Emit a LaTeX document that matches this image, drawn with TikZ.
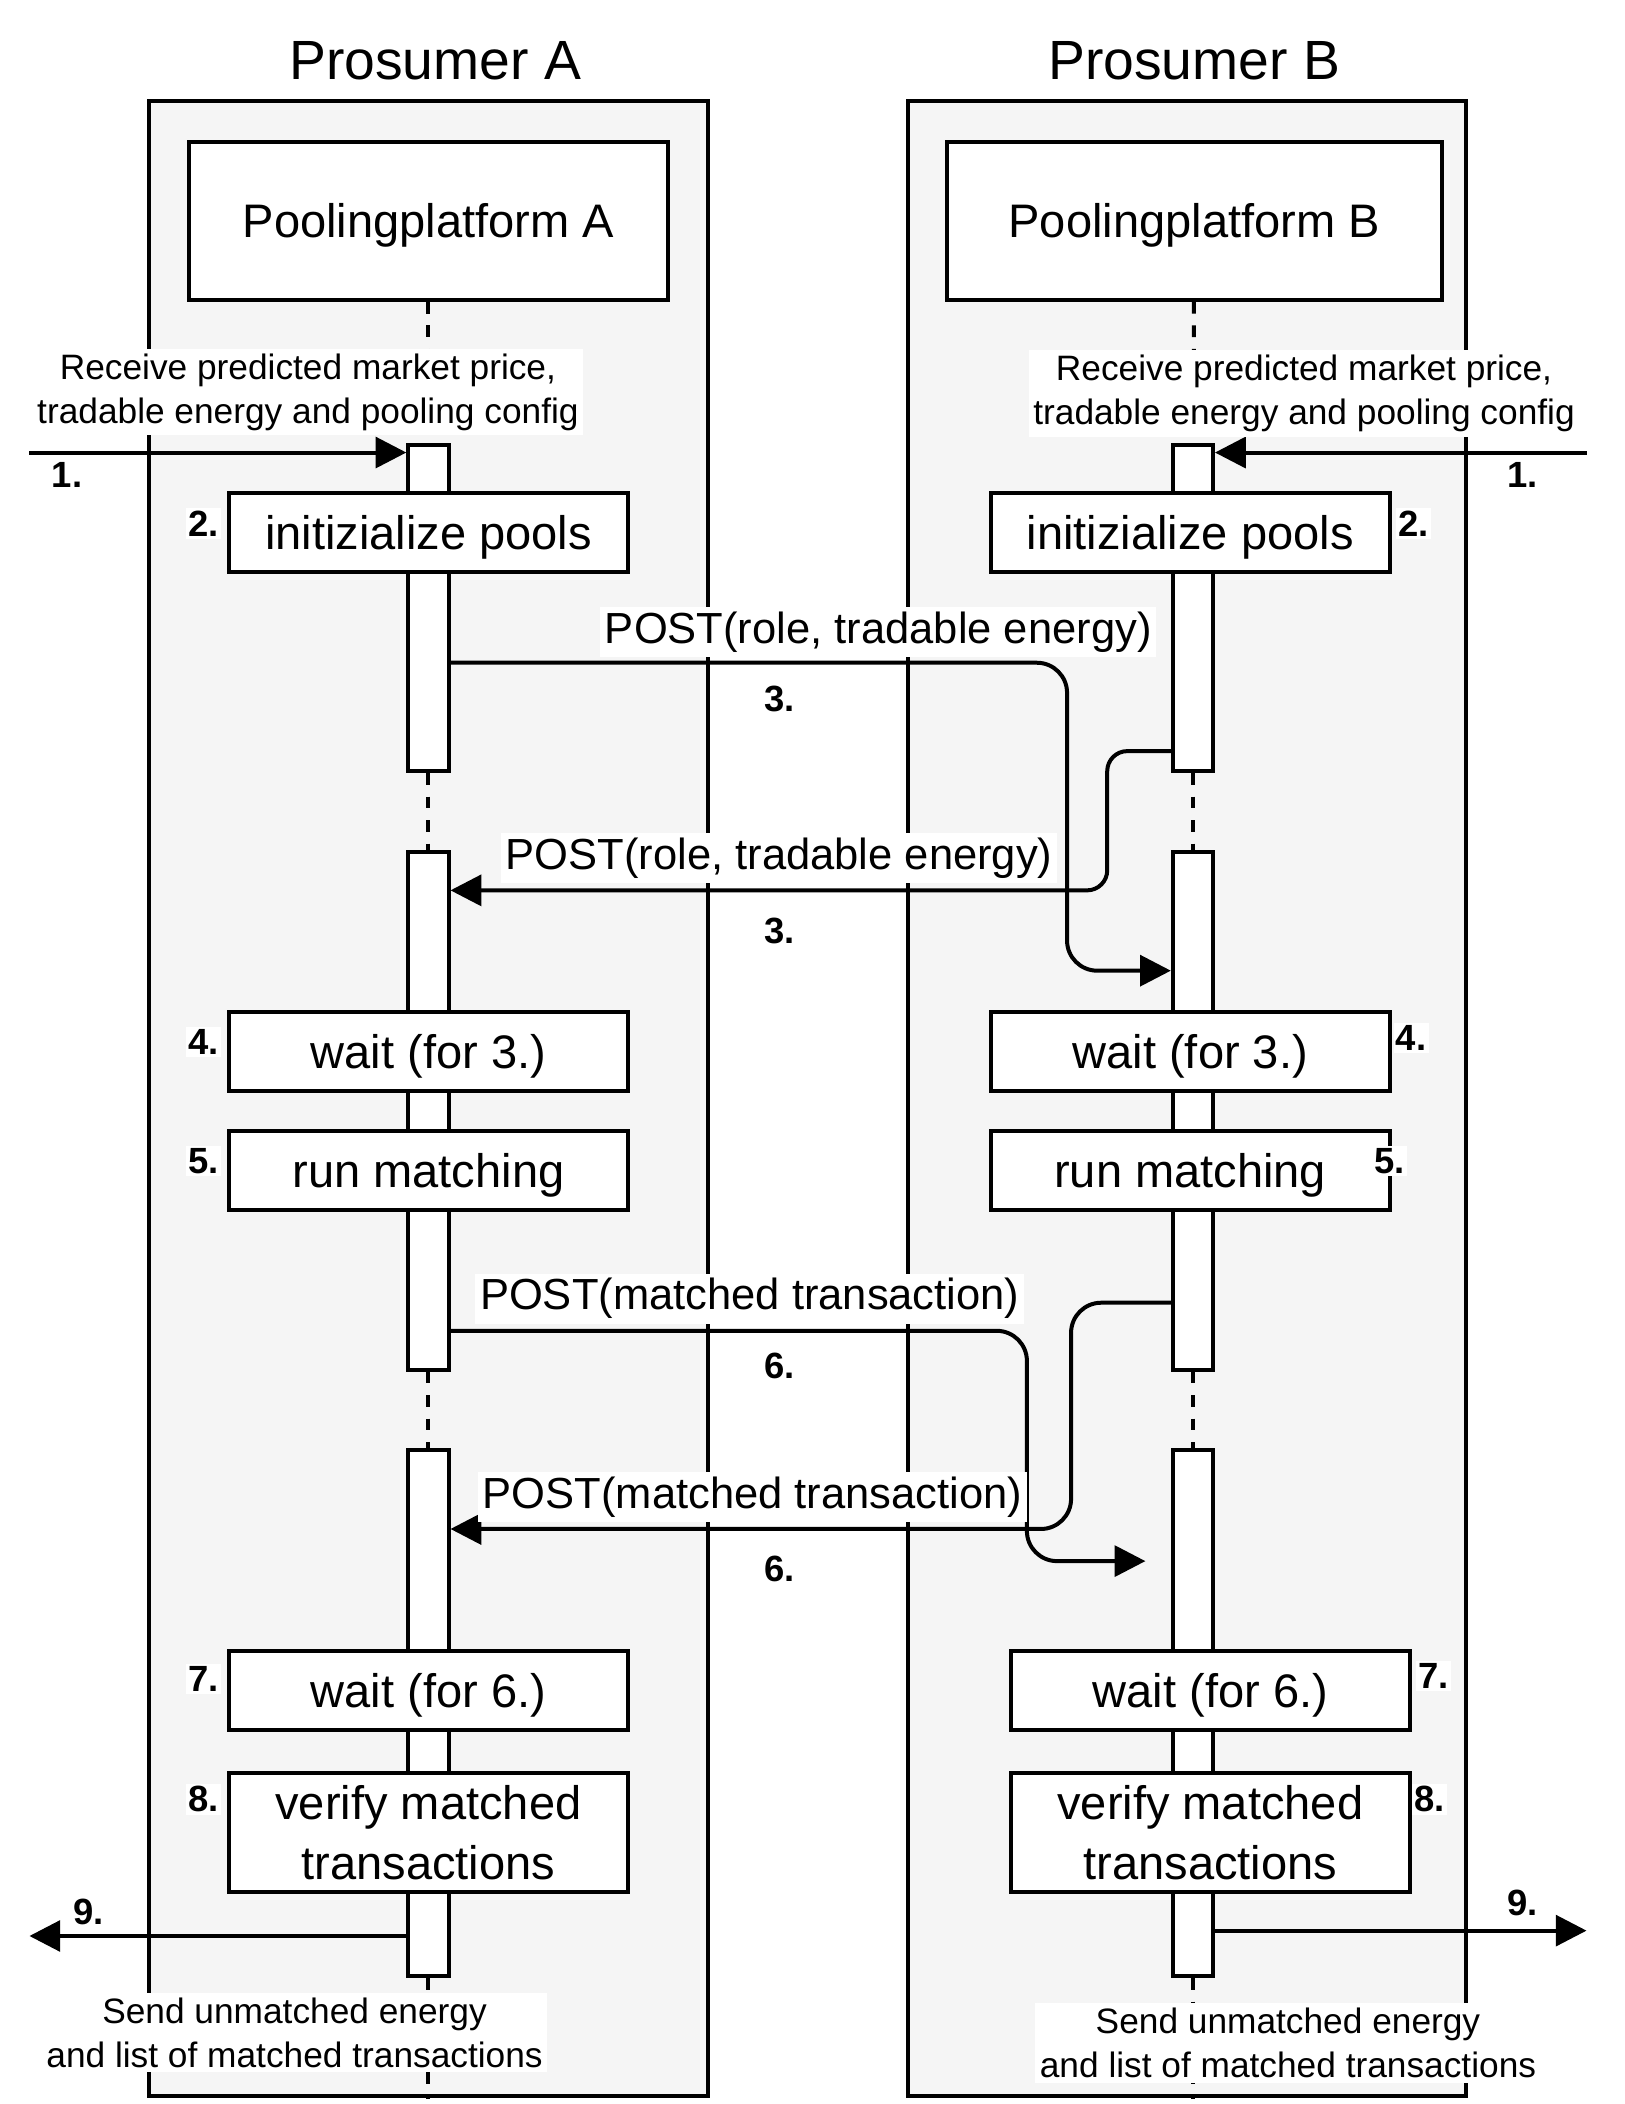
\documentclass[tikz,border=0pt]{standalone}
\usepackage{fontspec}
\setmainfont{Liberation Sans}
\usetikzlibrary{arrows.meta}
\definecolor{hintergrund}{HTML}{F5F5F5}

\tikzstyle{prosumer}= [rectangle,draw,black,fill=hintergrund,line width=1.7pt,minimum width=8.36cm,minimum height=29.82cm]
\tikzstyle{plattform}= [rectangle,draw,black,fill=white,line width=1.7pt,minimum height=2.36cm,text depth=0pt,font=\fontsize{20}{24}\selectfont]
\tikzstyle{aktiv}= [rectangle,draw,black,fill=white,line width=1.7pt,minimum width=0.6cm]
\tikzstyle{schritt}= [rectangle,draw,black,fill=white,line width=1.7pt,minimum width=5.96cm,minimum height=1.18cm,align=center,text depth=0pt,font=\fontsize{20}{25.5}\selectfont]
\tikzstyle{titel}= [font=\fontsize{23.5}{28}\selectfont]
\tikzstyle{nummer}= [fill=white,inner sep=1pt,font=\fontsize{15.5}{18}\selectfont\bfseries]
\tikzstyle{info}= [fill=white,inner sep=2pt,align=center,font=\fontsize{15}{18.7}\selectfont]
\tikzstyle{post}= [fill=white,inner sep=2pt,font=\fontsize{18.5}{22}\selectfont]
\tikzstyle{lebenslinie}= [black,line width=1.7pt,dash pattern=on 5pt off 5pt]
\tikzstyle{nachricht}= [black,line width=1.7pt,-{Triangle[length=0.46cm,width=0.46cm]}]

\begin{document}
\begin{tikzpicture}[x=0.02cm,y=-0.02cm]
		\useasboundingbox (0,0) rectangle (1213,1571.5);

		% Prosumer
		\node (prosA) at (320,820.5) [prosumer] {};
		\node (prosB) at (886.5,820.5) [prosumer,minimum width=8.34cm] {};
		\node (titelA) at (325,45) [titel] {Prosumer A};
		\node (titelB) at (892,45) [titel] {Prosumer B};

		\node (platA) at (320,165) [plattform,minimum width=7.16cm] {Poolingplatform A};
		\node (platB) at (892,165) [plattform,minimum width=7.4cm] {Poolingplatform B};

		% Aktivierungen
		\node (actA1) at (320,454) [aktiv,minimum height=4.88cm] {};
		\node (actA2) at (320,829.5) [aktiv,minimum height=7.74cm] {};
		\node (actA3) at (320,1279.5) [aktiv,minimum height=7.86cm] {};
		\node (actB1) at (891,454) [aktiv,minimum height=4.88cm] {};
		\node (actB2) at (891,829.5) [aktiv,minimum height=7.74cm] {};
		\node (actB3) at (891,1279.5) [aktiv,minimum height=7.86cm] {};

		\coordinate (endA) at (320,1568);
		\coordinate (endB) at (891,1568);

		\path[lebenslinie] (platA) edge[] (actA1);
		\path[lebenslinie] (actA1) edge[] (actA2);
		\path[lebenslinie] (actA2) edge[] (actA3);
		\path[lebenslinie] (actA3) edge[] (endA);
		\path[lebenslinie] (platB) edge[] (actB1);
		\path[lebenslinie] (actB1) edge[] (actB2);
		\path[lebenslinie] (actB2) edge[] (actB3);
		\path[lebenslinie] (actB3) edge[] (endB);

		% Nachrichten
		\coordinate (in1A) at (22,338);
		\coordinate (in1B) at (1185,338);
		\coordinate (out9A) at (22,1446);
		\coordinate (out9B) at (1185,1442);
		\path (in1A) edge[nachricht] (in1A -| actA1.west);
		\path (in1B) edge[nachricht] (in1B -| actB1.east);
		\path (out9A -| actA3.west) edge[nachricht] (out9A);
		\path (out9B -| actB3.east) edge[nachricht] (out9B);

		\coordinate (k3a) at (797,495);
		\coordinate (l3a) at (797,725);
		\draw[nachricht,rounded corners=0.45cm] (actA1.east |- k3a) -- (k3a) -- (l3a) -- (actB2.west |- l3a);
		\coordinate (k3b) at (827,561);
		\coordinate (l3b) at (827,665);
		\draw[nachricht,rounded corners=0.3cm] (actB1.west |- k3b) -- (k3b) -- (l3b) -- (actA2.east |- l3b);

		\coordinate (k6a) at (767,994);
		\coordinate (l6a) at (767,1166);
		\draw[nachricht,rounded corners=0.45cm,shorten >=0.38cm] (actA2.east |- k6a) -- (k6a) -- (l6a) -- (actB3.west |- l6a);
		\coordinate (k6b) at (800,973);
		\coordinate (l6b) at (800,1142);
		\draw[nachricht,rounded corners=0.45cm] (actB2.west |- k6b) -- (k6b) -- (l6b) -- (actA3.east |- l6b);

		% Schritte
		\node (initA) at (320,397.5) [schritt] {initizialize pools};
		\node (wait3A) at (320,785.5) [schritt] {wait (for 3.)};
		\node (runA) at (320,874.5) [schritt] {run matching};
		\node (wait6A) at (320,1262.5) [schritt] {wait (for 6.)};
		\node (verA) at (320,1368.5) [schritt,minimum height=1.78cm] {verify matched\\transactions};
		\node (initB) at (889,397.5) [schritt] {initizialize pools};
		\node (wait3B) at (889,785.5) [schritt] {wait (for 3.)};
		\node (runB) at (889,874.5) [schritt] {run matching};
		\node (wait6B) at (904,1262.5) [schritt] {wait (for 6.)};
		\node (verB) at (904,1368.5) [schritt,minimum height=1.78cm] {verify matched\\transactions};

		% Beschriftungen
		\node (recvA) at (230,293) [info] {Receive predicted market price,\\tradable energy and pooling config};
		\node (recvB) at (974,294) [info] {Receive predicted market price,\\tradable energy and pooling config};
		\node (sendA) at (220,1518) [info] {Send unmatched energy\\and list of matched transactions};
		\node (sendB) at (962,1526) [info] {Send unmatched energy\\and list of matched transactions};

		\node (post3a) at (656,472) [post] {POST(role, tradable energy)};
		\node (post3b) at (582,641) [post] {POST(role, tradable energy)};
		\node (post6a) at (560,970) [post] {POST(matched transaction)};
		\node (post6b) at (562,1118) [post] {POST(matched transaction)};

		\node (n1A) at (50,355) [nummer] {1.};
		\node (n2A) at (152,391) [nummer] {2.};
		\node (n3a) at (582,522) [nummer] {3.};
		\node (n3b) at (582,695) [nummer] {3.};
		\node (n4A) at (152,778) [nummer] {4.};
		\node (n5A) at (152,867) [nummer] {5.};
		\node (n6a) at (582,1020) [nummer] {6.};
		\node (n6b) at (582,1172) [nummer] {6.};
		\node (n7A) at (152,1254) [nummer] {7.};
		\node (n8A) at (152,1344) [nummer] {8.};
		\node (n9A) at (66,1428) [nummer] {9.};
		\node (n1B) at (1137,355) [nummer] {1.};
		\node (n2B) at (1056,391) [nummer] {2.};
		\node (n4B) at (1054,775) [nummer] {4.};
		\node (n5B) at (1038,867) [nummer] {5.};
		\node (n7B) at (1071,1252) [nummer] {7.};
		\node (n8B) at (1068,1344) [nummer] {8.};
		\node (n9B) at (1137,1421) [nummer] {9.};
\end{tikzpicture}
\end{document}
